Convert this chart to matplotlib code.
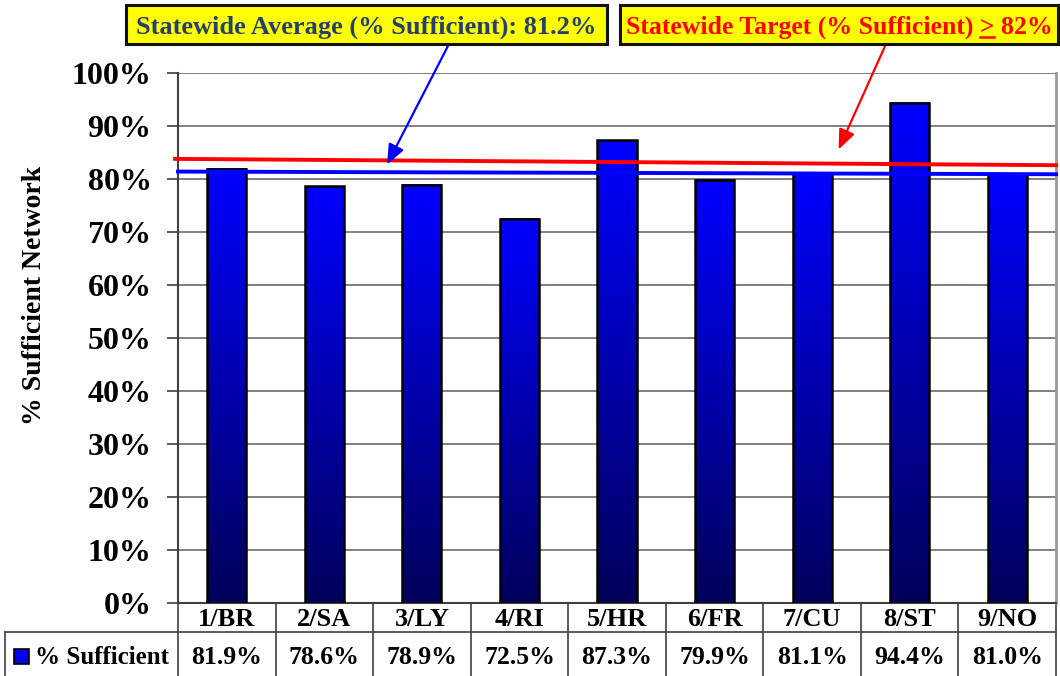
import numpy as np
import matplotlib
matplotlib.use("Agg")
import matplotlib.pyplot as plt
import matplotlib.transforms as mtransforms
from matplotlib.colors import LinearSegmentedColormap
from matplotlib.patches import Rectangle

plt.rcParams['font.family'] = ['Liberation Serif', 'DejaVu Serif']
plt.rcParams['font.weight'] = 'bold'

# data
regions = ['1/BR', '2/SA', '3/LY', '4/RI', '5/HR', '6/FR', '7/CU', '8/ST', '9/NO']
sufficient = [81.9, 78.6, 78.9, 72.5, 87.3, 79.9, 81.1, 94.4, 81.0]
avg_line = [81.4, 80.9]      # statewide average line, left -> right
target_line = [83.8, 82.6]   # statewide target line, left -> right
avg_label = 'Statewide Average (% Sufficient): 81.2%'
target_label = 'Statewide Target (% Sufficient) > 82%'
series_name = '% Sufficient'

W, H = 1060, 676
fig = plt.figure(figsize=(W / 100, H / 100), dpi=100)

def fx(p):
    return p / W

def fy(p):
    return 1 - p / H

ax_l, ax_r, ax_t, ax_b = 178, 1056, 73, 603
ax = fig.add_axes([fx(ax_l), fy(ax_b), fx(ax_r - ax_l), (ax_b - ax_t) / H])

cmap = LinearSegmentedColormap.from_list('bar', ['#00005a', '#0000ff'])
grad = np.linspace(0, 1, 256).reshape(-1, 1)
bw = 0.4
x = np.arange(len(regions))
for xi, v in zip(x, sufficient):
    ax.imshow(grad, extent=[xi - bw / 2, xi + bw / 2, 0, v], origin='lower',
              aspect='auto', cmap=cmap, zorder=2, interpolation='bilinear')
    ax.add_patch(Rectangle((xi - bw / 2, 0), bw, v, fill=False, ec='black', lw=1.8, zorder=3))

# statewide lines
ax.plot([-0.53, len(regions) - 0.5], target_line, color='#ff0000', lw=2.8, zorder=4, clip_on=False)
ax.plot([-0.5, len(regions) - 0.5], avg_line, color='#0000ff', lw=2.8, zorder=4, clip_on=False)

ax.set_xlim(-0.5, len(regions) - 0.5)
ax.set_ylim(0, 100)
ax.set_yticks(np.arange(0, 101, 10))
ax.set_yticklabels([f'{t}%' for t in range(0, 101, 10)], fontsize=23, fontweight='bold')
ax.set_xticks([])
ax.tick_params(axis='y', length=8, width=1.2, color='#404040', pad=11)
ax.yaxis.grid(True, color='#808080', lw=1.4, zorder=0)
ax.set_axisbelow(True)
ax.spines['top'].set_visible(False)
ax.spines['left'].set_color('#404040')
ax.spines['left'].set_linewidth(1.5)
ax.spines['right'].set_color('#999999')
ax.spines['right'].set_linewidth(2)
ax.spines['bottom'].set_color('#404040')
ax.spines['bottom'].set_linewidth(1.5)

fig.text(fx(35), fy(295), '% Sufficient Network', rotation=90, fontsize=20,
         fontweight='bold', ha='center', va='center')

# data table under the axis
bt = mtransforms.blended_transform_factory(ax.transData, fig.transFigure)
row_mid, row_bot = 632, 676
for k in range(len(regions) + 1):
    ax.plot([k - 0.5, k - 0.5], [fy(ax_b), fy(row_bot)], transform=bt, color='#404040',
            lw=1.2, clip_on=False)
fig.add_artist(plt.Line2D([fx(5), fx(ax_r)], [fy(row_mid), fy(row_mid)], color='#404040', lw=1.2))
fig.add_artist(plt.Line2D([fx(5), fx(5)], [fy(row_mid), fy(row_bot)], color='#404040', lw=1.2))
for xi, name, v in zip(x, regions, sufficient):
    ax.text(xi, fy(620), name, transform=bt, ha='center', va='center', fontsize=19, fontweight='bold')
    ax.text(xi, fy(657), f'{v:.1f}%', transform=bt, ha='center', va='center', fontsize=18.5, fontweight='bold')
fig.patches.append(Rectangle((fx(14), fy(664)), fx(15), 15 / H, transform=fig.transFigure,
                             fc='#0000ee', ec='black', lw=1.2))
fig.text(fx(35), fy(657), series_name, ha='left', va='center', fontsize=18, fontweight='bold')

# labelled boxes
def box(x0, x1, y0, y1, text, color, size):
    fig.patches.append(Rectangle((fx(x0), fy(y1)), fx(x1 - x0), (y1 - y0) / H,
                                 transform=fig.transFigure, fc='#ffff00', ec='#111111', lw=2.2))
    return fig.text(fx((x0 + x1) / 2), fy((y0 + y1) / 2 + 3), text, ha='center', va='center',
                    fontsize=size, fontweight='bold', color=color)

box(126, 607, 5, 44, avg_label, '#26406e', 19)
t_target = box(620, 1058, 5, 44, target_label, '#ff0000', 18.5)

# underline the ">" sign
fig.canvas.draw()
r = fig.canvas.get_renderer()
ext = t_target.get_window_extent(r)
pre = fig.text(0, 0, target_label[:target_label.index('>') + 1], fontsize=18.5, fontweight='bold')
gt = fig.text(0, 0, '>', fontsize=18.5, fontweight='bold')
w_pre = pre.get_window_extent(r).width
w_gt = gt.get_window_extent(r).width
pre.remove()
gt.remove()
ux1 = ext.x0 + w_pre
ux0 = ux1 - w_gt
uy = ext.y0 + 2
fig.add_artist(plt.Line2D([ux0 / W, ux1 / W], [uy / H, uy / H], color='#ff0000', lw=1.8))

# arrows from boxes to the lines
ax.annotate('', xy=(1.63, 82.3), xycoords='data', xytext=(fx(449), fy(44)),
            textcoords='figure fraction',
            arrowprops=dict(arrowstyle='-|>,head_length=1.2,head_width=0.5', color='#0000ff', lw=1.6),
            zorder=5, annotation_clip=False)
ax.annotate('', xy=(6.26, 85.1), xycoords='data', xytext=(fx(886), fy(44)),
            textcoords='figure fraction',
            arrowprops=dict(arrowstyle='-|>,head_length=1.2,head_width=0.5', color='#ff0000', lw=1.6),
            zorder=5, annotation_clip=False)

fig.savefig('out.png', dpi=100)
